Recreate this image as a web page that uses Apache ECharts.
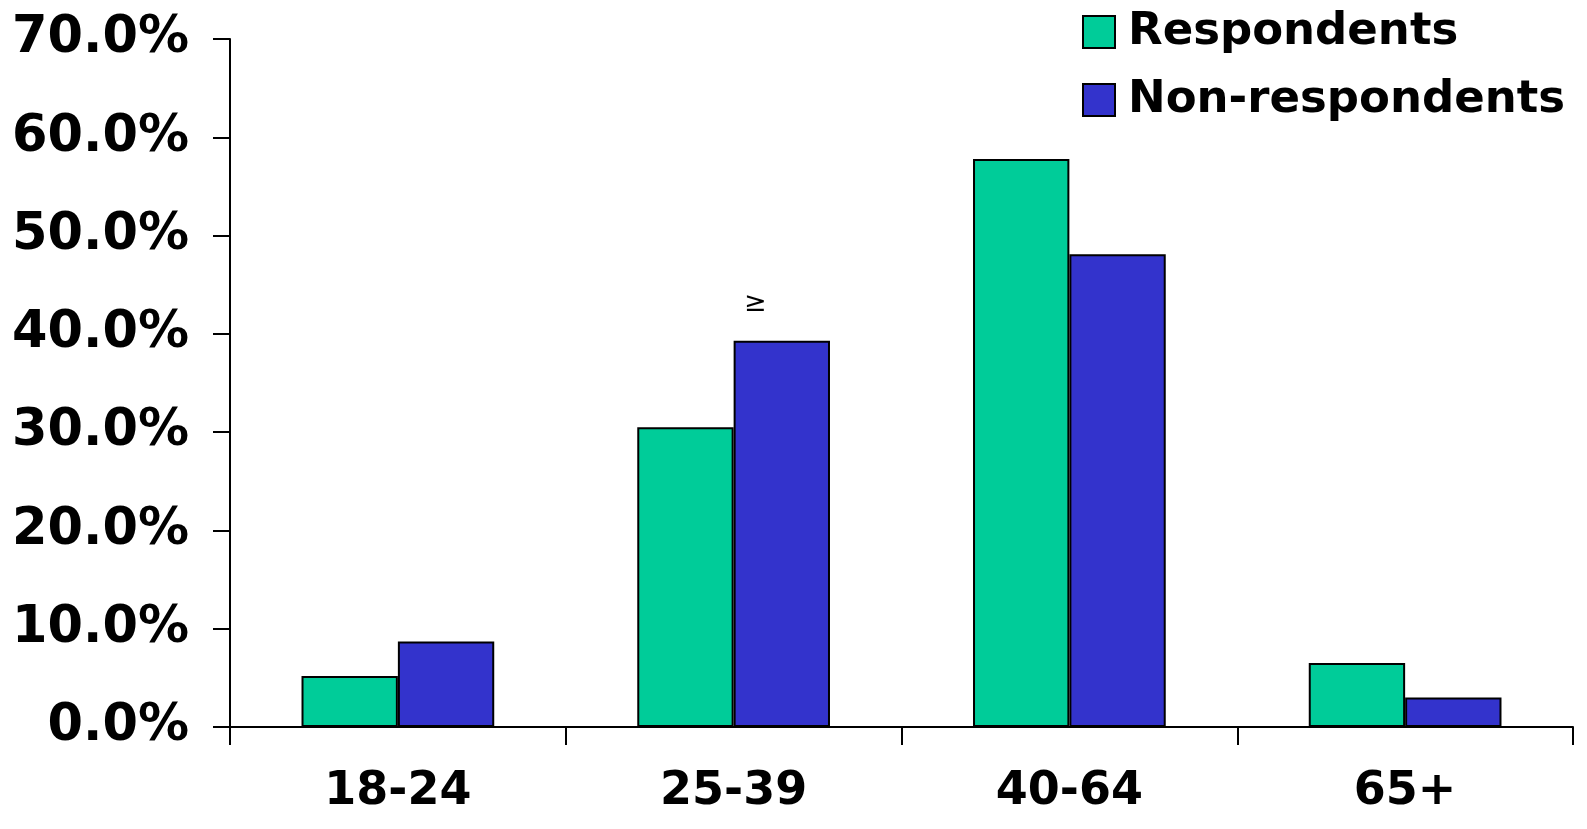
<!DOCTYPE html>
<html>
<head>
<meta charset="utf-8">
<script src="https://cdn.jsdelivr.net/npm/echarts@6/dist/echarts.min.js"></script>
<style>
html,body{margin:0;padding:0;background:#fff;}
#chart{width:1587px;height:829px;}
</style>
</head>
<body>
<div id="chart"></div>
<script>
const categories = ['18-24', '25-39', '40-64', '65+'];
const respondents = [5.2, 30.5, 57.8, 6.5];
const nonRespondents = [8.7, 39.3, 48.1, 3.0];
const seriesNames = ['Respondents', 'Non-respondents'];
const annotationText = '\u2265';

const FONT = '"DejaVu Sans", Verdana, sans-serif';
const chart = echarts.init(document.getElementById('chart'));
chart.setOption({
  backgroundColor: '#ffffff',
  animation: false,
  grid: { left: 230, right: 14, top: 39, bottom: 102 },
  legend: {
    orient: 'vertical',
    left: 1077,
    top: 4,
    icon: 'rect',
    itemWidth: 32,
    itemHeight: 32,
    itemGap: 22,
    textStyle: { fontFamily: FONT, fontWeight: 'bold', fontSize: 45, color: '#000', lineHeight: 46, padding: [0, 0, 0, 8] },
    data: seriesNames
  },
  xAxis: {
    type: 'category',
    data: categories,
    axisLine: { lineStyle: { color: '#000', width: 2 } },
    axisTick: { show: true, length: 18, inside: false, lineStyle: { color: '#000', width: 2 } },
    axisLabel: { fontFamily: FONT, fontWeight: 'bold', fontSize: 46, color: '#000', margin: 42 }
  },
  yAxis: {
    type: 'value',
    min: 0, max: 70, interval: 10,
    axisLine: { show: true, lineStyle: { color: '#000', width: 2 } },
    axisTick: { show: true, length: 17, lineStyle: { color: '#000', width: 2 } },
    splitLine: { show: false },
    axisLabel: {
      fontFamily: FONT, fontWeight: 'bold', fontSize: 51, color: '#000', margin: 41,
      formatter: v => v.toFixed(1) + '%'
    }
  },
  series: [
    {
      name: seriesNames[0], type: 'bar', data: respondents,
      barWidth: '28.7%', barGap: '0%',
      itemStyle: { color: '#00CC99', borderColor: '#000', borderWidth: 2 }
    },
    {
      name: seriesNames[1], type: 'bar', data: nonRespondents,
      barWidth: '28.7%', barGap: '0%',
      itemStyle: { color: '#3333CC', borderColor: '#000', borderWidth: 2 }
    }
  ],
  graphic: [
    {
      type: 'text', left: 744, top: 290,
      style: { text: annotationText, fontFamily: FONT, fontSize: 27, fill: '#000' }
    }
  ]
});
</script>
</body>
</html>
